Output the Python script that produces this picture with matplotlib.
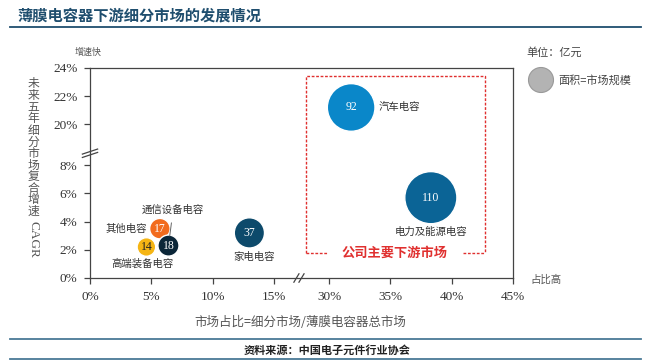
import numpy as np
import matplotlib
matplotlib.use("Agg")
import matplotlib.pyplot as plt
from matplotlib.patches import Ellipse

CJK = ["Noto Sans CJK SC", "DejaVu Sans"]
SERIF = ["Liberation Serif", "DejaVu Serif"]

# data: market share (%), 5-year CAGR (%), market size (100m yuan)
segments = ["汽车电容", "电力及能源电容", "家电电容", "其他电容", "通信设备电容", "高端装备电容"]
share = [31.8, 38.3, 13.0, 5.7, 6.4, 4.6]
cagr = [21.2, 5.7, 3.2, 3.5, 2.3, 2.2]
size = [92, 110, 37, 17, 18, 14]
colors = ["#0a87c9", "#0b6496", "#0d4a6b", "#f26b1d", "#0b2638", "#f5b514"]
num_colors = ["white", "white", "white", "white", "white", "#222222"]

xticks = [0, 5, 10, 15, 30, 35, 40, 45]
yticks = [0, 2, 4, 6, 8, 20, 22, 24]

# label placement (offset in points, alignment)
label_pos = [((20, 0), "left"), ((0, -24.5), "center"), ((3.6, -17.6), "center"),
             ((-9.5, 0), "right"), ((3.4, 26), "center"), ((-3, -11.7), "center")]


def fwd_x(v):
    v = np.asarray(v, dtype=float)
    return np.where(v <= 15, v, np.where(v >= 30, v - 10.5, 15 + (v - 15) * 0.3))


def inv_x(d):
    d = np.asarray(d, dtype=float)
    return np.where(d <= 15, d, np.where(d >= 19.5, d + 10.5, 15 + (d - 15) / 0.3))


def fwd_y(v):
    v = np.asarray(v, dtype=float)
    return np.where(v <= 8, v, np.where(v >= 20, v - 9.1, 8 + (v - 8) * 2.9 / 12))


def inv_y(d):
    d = np.asarray(d, dtype=float)
    return np.where(d <= 8, d, np.where(d >= 10.9, d + 9.1, 8 + (d - 8) * 12 / 2.9))


W, H = 645, 360
fig = plt.figure(figsize=(W / 100, H / 100), dpi=100)


def fx(x):
    return x / W


def fy(y):
    return 1 - y / H


ax = fig.add_axes([fx(90), fy(278), fx(513) - fx(90), fy(68) - fy(278)])
ax.set_xscale("function", functions=(fwd_x, inv_x))
ax.set_yscale("function", functions=(fwd_y, inv_y))
ax.set_xlim(0, 45)
ax.set_ylim(0, 24)
ax.set_xticks(xticks)
ax.set_yticks(yticks)
ax.set_xticklabels([f"{t}%" for t in xticks], family=SERIF, fontsize=9.5, color="#333333")
ax.set_yticklabels([f"{t}%" for t in yticks], family=SERIF, fontsize=9.5, color="#333333")
ax.xaxis.set_minor_locator(matplotlib.ticker.NullLocator())
ax.yaxis.set_minor_locator(matplotlib.ticker.NullLocator())
ax.tick_params(direction="out", length=4, width=0.9, color="#444444", pad=5)
for sp in ax.spines.values():
    sp.set_color("#444444")
    sp.set_linewidth(0.9)

ax.scatter(share, cagr, s=[12.8 * v for v in size], c=colors, edgecolors="white",
           linewidths=1, zorder=3, clip_on=False)

for i, name in enumerate(segments):
    ax.text(share[i], cagr[i], str(size[i]), ha="center", va="center", family=SERIF,
            fontsize=8.5, color=num_colors[i], zorder=4)
    (ox, oy), ha = label_pos[i]
    if name == "通信设备电容":
        ax.annotate(name, xy=(share[i], cagr[i]), xytext=(ox, oy), textcoords="offset points",
                    ha=ha, va="center", family=CJK, fontsize=7.5, color="#333333",
                    arrowprops=dict(arrowstyle="-", color="#666666", lw=0.7,
                                    shrinkA=4, shrinkB=7), zorder=4)
    else:
        ax.annotate(name, xy=(share[i], cagr[i]), xytext=(ox, oy), textcoords="offset points",
                    ha=ha, va="center", family=CJK, fontsize=7.5, color="#333333", zorder=4)

# axis break marks
for dx in (-0.006, 0.006):
    ax.plot([0.494 + dx - 0.006, 0.494 + dx + 0.006], [-0.02, 0.02], transform=ax.transAxes,
            color="#444444", lw=0.9, clip_on=False)
for dy in (-0.008, 0.008):
    ax.plot([-0.018, 0.018], [0.594 + dy - 0.012, 0.594 + dy + 0.012], transform=ax.transAxes,
            color="#444444", lw=0.9, clip_on=False)

# red dashed box
red = "#e0302f"
ls = (0, (2, 1.2))
l, r, t, b = 0.511, 0.934, 0.963, 0.119
ax.plot([l, l, r, r], [b, t, t, b], transform=ax.transAxes, color=red, lw=1, ls=ls, clip_on=False)
ax.plot([l, 0.56], [b, b], transform=ax.transAxes, color=red, lw=1, ls=ls, clip_on=False)
ax.plot([0.882, r], [b, b], transform=ax.transAxes, color=red, lw=1, ls=ls, clip_on=False)
ax.text(0.721, b, "公司主要下游市场", transform=ax.transAxes, ha="center", va="center",
        family=CJK, fontsize=9.5, fontweight="bold", color=red)

# title and frame lines
fig.text(fx(17), fy(16), "薄膜电容器下游细分市场的发展情况", ha="left", va="center",
         family=CJK, fontsize=11, fontweight="bold", color="#1f4e6e")
fig.add_artist(plt.Line2D([fx(10), fx(641)], [fy(27), fy(27)], color="#1f4e6e", lw=1.3))
fig.add_artist(plt.Line2D([fx(10), fx(641)], [fy(339), fy(339)], color="#4a7a96", lw=1.3))
fig.add_artist(plt.Line2D([fx(10), fx(641)], [fy(359), fy(359)], color="#4a7a96", lw=1.3))
fig.text(fx(327), fy(350), "资料来源：中国电子元件行业协会", ha="center", va="center",
         family=CJK, fontsize=8, fontweight="bold", color="#222222")

# corner notes
fig.text(fx(88), fy(52), "增速快", ha="center", va="center", family=CJK, fontsize=6.5,
         style="italic", color="#555555")
fig.text(fx(546), fy(280), "占比高", ha="center", va="center", family=CJK, fontsize=7.5,
         style="italic", color="#555555")
fig.text(fx(526), fy(52), "单位：亿元", ha="left", va="center", family=CJK, fontsize=8,
         color="#444444")
fig.add_artist(Ellipse((fx(541), fy(80)), 25 / W, 25 / H, facecolor="#b3b3b3",
                       edgecolor="#999999", lw=0.8))
fig.text(fx(558), fy(80), "面积=市场规模", ha="left", va="center", family=CJK, fontsize=8,
         color="#444444")

# axis titles
fig.text(fx(300), fy(322), "市场占比=细分市场/薄膜电容器总市场", ha="center", va="center",
         family=CJK, fontsize=9, color="#555555")
for k, ch in enumerate("未来五年细分市场复合增速"):
    fig.text(fx(33), fy(84 + 11.6 * k), ch, ha="center", va="center",
             family=CJK, fontsize=8.5, color="#555555")
fig.text(fx(33), fy(221), "CAGR", ha="center", va="top", rotation=-90, family=SERIF,
         fontsize=9.5, color="#555555")

fig.savefig("out.png", dpi=100)
